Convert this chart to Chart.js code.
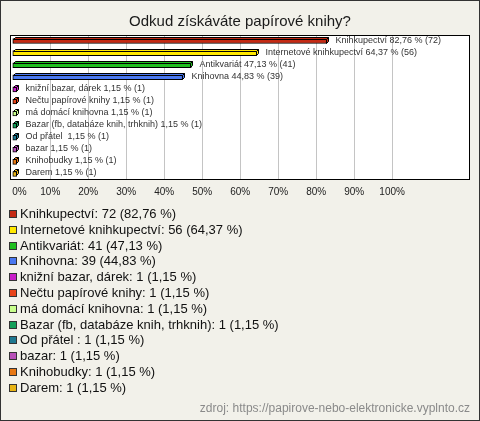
<!DOCTYPE html>
<html>
<head>
<meta charset="utf-8">
<script src="https://cdn.jsdelivr.net/npm/chart.js@4/dist/chart.umd.min.js"></script>
<style>
  html, body { margin: 0; padding: 0; }
  body { width: 480px; height: 421px; overflow: hidden; }
  #wrap { position: relative; width: 480px; height: 421px; background: #f2f1ea; font-family: "Liberation Sans", Arial, sans-serif; }
  #c { position: absolute; left: 0; top: 0; }
  #frame { position: absolute; left: 0; top: 0; width: 478px; height: 419px; border: 1px solid #333; pointer-events: none; }
  #legend { position: absolute; left: 9px; top: 206px; }
  .row { position: absolute; left: 0; height: 16px; white-space: nowrap; font-size: 13px; line-height: 16px; color: #111; }
  .sw { position: absolute; left: 0; top: 4px; width: 6px; height: 6px; border: 1px solid #333; }
  .tx { position: absolute; left: 11px; top: 0; }
  #src { position: absolute; right: 10px; top: 400px; font-size: 12px; line-height: 16px; color: #8a8a8a; white-space: nowrap; }
</style>
</head>
<body>
<div id="wrap">
  <canvas id="c" width="480" height="421"></canvas>
  <div id="legend"></div>
  <div id="src">zdroj: https://papirove-nebo-elektronicke.vyplnto.cz</div>
  <div id="frame"></div>
</div>
<script>
const title = "Odkud získáváte papírové knihy?";
const categories = [
  "Knihkupectví",
  "Internetové knihkupectví",
  "Antikvariát",
  "Knihovna",
  "knižní bazar, dárek",
  "Nečtu papírové knihy",
  "má domácí knihovna",
  "Bazar (fb, databáze knih, trhknih)",
  "Od přátel ",
  "bazar",
  "Knihobudky",
  "Darem"
];
const counts = [72, 56, 41, 39, 1, 1, 1, 1, 1, 1, 1, 1];
const percents = [82.76, 64.37, 47.13, 44.83, 1.15, 1.15, 1.15, 1.15, 1.15, 1.15, 1.15, 1.15];
const colors = ["#c42a14", "#ffe800", "#1fbf1f", "#4a78f0", "#c81ec8", "#e8441a", "#c8ff8c", "#14a05a", "#1e7890", "#b850b8", "#e87814", "#e8b414"];
const tickValues = [0, 10, 20, 30, 40, 50, 60, 70, 80, 90, 100, 110, 120];
const TICK_LABEL_MAX = 100;

const fmt = v => v.toFixed(2).replace('.', ',');

// HTML legend
const legend = document.getElementById('legend');
categories.forEach((c, i) => {
  const r = document.createElement('div');
  r.className = 'row';
  r.style.top = (i * 15.8) + 'px';
  const s = document.createElement('div');
  s.className = 'sw';
  s.style.background = colors[i];
  const t = document.createElement('div');
  t.className = 'tx';
  t.textContent = c + ': ' + counts[i] + ' (' + fmt(percents[i]) + ' %)';
  r.appendChild(s); r.appendChild(t);
  legend.appendChild(r);
});

const DEPTH = 2;
const plotBg = {
  id: 'plotBg',
  beforeDraw(chart) {
    const a = chart.chartArea, ctx = chart.ctx;
    ctx.save();
    ctx.fillStyle = '#ffffff';
    ctx.fillRect(a.left, a.top, a.right - a.left, a.bottom - a.top);
    ctx.restore();
  },
  afterDraw(chart) {
    const a = chart.chartArea, ctx = chart.ctx;
    ctx.save();
    ctx.strokeStyle = '#000';
    ctx.lineWidth = 1;
    ctx.strokeRect(Math.round(a.left) + 0.5, Math.round(a.top) + 0.5, Math.round(a.right - a.left) - 1, Math.round(a.bottom - a.top) - 1);
    ctx.restore();
  }
};

const bars3d = {
  id: 'bars3d',
  afterDatasetsDraw(chart) {
    const ctx = chart.ctx;
    const meta = chart.getDatasetMeta(0);
    ctx.save();
    meta.data.forEach((bar, i) => {
      const x0 = Math.round(bar.base) + 0.5;
      const x1 = Math.round(bar.x) - 0.5;
      const top = Math.round(bar.y - bar.height / 2) + 0.5;
      const bot = Math.round(bar.y + bar.height / 2) - 0.5;
      ctx.lineWidth = 1;
      ctx.strokeStyle = '#000';
      ctx.fillStyle = colors[i];
      ctx.beginPath();
      ctx.moveTo(x0, top);
      ctx.lineTo(x0 + DEPTH, top - DEPTH);
      ctx.lineTo(x1 + DEPTH, top - DEPTH);
      ctx.lineTo(x1, top);
      ctx.closePath();
      ctx.fill(); ctx.stroke();
      ctx.beginPath();
      ctx.moveTo(x1, top);
      ctx.lineTo(x1 + DEPTH, top - DEPTH);
      ctx.lineTo(x1 + DEPTH, bot - DEPTH);
      ctx.lineTo(x1, bot);
      ctx.closePath();
      ctx.fill(); ctx.stroke();
      ctx.fillStyle = '#333';
      ctx.font = '9px "Liberation Sans", Arial, sans-serif';
      ctx.textBaseline = 'middle';
      ctx.textAlign = 'left';
      ctx.fillText(categories[i] + ' ' + fmt(percents[i]) + ' % (' + counts[i] + ')', x1 + DEPTH + 7, bar.y - 1);
    });
    ctx.restore();
  }
};

new Chart(document.getElementById('c'), {
  type: 'bar',
  data: {
    labels: categories,
    datasets: [{
      data: percents,
      backgroundColor: colors,
      borderColor: '#000',
      borderWidth: 1,
      barThickness: 5,
      borderSkipped: false
    }]
  },
  options: {
    indexAxis: 'y',
    responsive: false,
    animation: false,
    devicePixelRatio: 1,
    layout: { padding: { left: 10, right: 10, top: 0, bottom: 217 } },
    plugins: {
      legend: { display: false },
      tooltip: { enabled: false },
      title: {
        display: true,
        text: title,
        color: '#1a1a1a',
        font: { size: 15, family: '"Liberation Sans", Arial, sans-serif', weight: 'normal' },
        padding: { top: 13, bottom: 4 }
      }
    },
    scales: {
      x: {
        min: -0.6,
        max: 120.5,
        afterBuildTicks(scale) { scale.ticks = tickValues.map(v => ({ value: v })); },
        grid: {
          drawTicks: false,
          color: ctx => (ctx.tick && ctx.tick.value > 0 && ctx.tick.value <= TICK_LABEL_MAX) ? '#c4c4c4' : 'rgba(0,0,0,0)'
        },
        border: { display: false },
        ticks: {
          padding: 6,
          align: 'inner',
          color: '#222',
          font: { size: 10, family: '"Liberation Sans", Arial, sans-serif' },
          maxRotation: 0,
          autoSkip: false,
          callback: v => (v <= TICK_LABEL_MAX ? v + '%' : '')
        }
      },
      y: { display: false }
    }
  },
  plugins: [plotBg, bars3d]
});
</script>
</body>
</html>
